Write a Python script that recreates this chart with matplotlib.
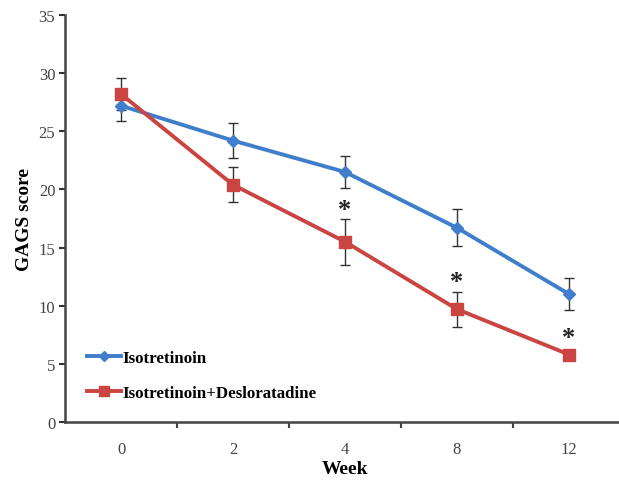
import matplotlib.pyplot as plt

weeks = ['0', '2', '4', '8', '12']
iso = [27.2, 24.2, 21.5, 16.7, 11.0]
iso_err = [1.3, 1.5, 1.4, 1.6, 1.4]
iso_des = [28.2, 20.4, 15.5, 9.7, 5.8]
iso_des_err = [1.4, 1.5, 2.0, 1.5, 0.3]
star_y = [18.3, 12.1, 7.3]
star_idx = [2, 3, 4]

blue = '#407ECB'
red = '#CA4541'

plt.rcParams['font.family'] = ['Liberation Serif', 'DejaVu Serif']

fig = plt.figure(figsize=(6.19, 4.81), dpi=100)
ax = fig.add_axes([65 / 619, 1 - 423 / 481, 560 / 619, 407 / 481])

x = list(range(len(weeks)))
ax.errorbar(x, iso, yerr=iso_err, fmt='none', ecolor='#333333', elinewidth=1, capsize=3.5, capthick=1, zorder=2)
ax.errorbar(x, iso_des, yerr=iso_des_err, fmt='none', ecolor='#333333', elinewidth=1, capsize=3.5, capthick=1, zorder=2)
ax.plot(x, iso, color=blue, lw=2.8, marker='D', ms=6.5, mfc=blue, mec=blue, label='Isotretinoin', zorder=3)
ax.plot(x, iso_des, color=red, lw=2.8, marker='s', ms=9, mfc=red, mec=red, label='Isotretinoin+Desloratadine', zorder=4)

for i, y in zip(star_idx, star_y):
    ax.text(i, y, '*', ha='center', va='center', fontsize=19, fontweight='bold', color='#222222')

ax.set_xlim(-0.5, 4.5)
ax.set_ylim(0, 35)
ax.set_yticks(range(0, 36, 5))
ax.set_xticks(x)
ax.set_xticklabels(weeks)
ax.set_xticks([0.5, 1.5, 2.5, 3.5], minor=True)
ax.tick_params(axis='x', which='major', length=0, pad=14, labelsize=12, colors='#333333')
ax.tick_params(axis='x', which='minor', length=4, width=1.5, direction='out', color='#444444')
ax.tick_params(axis='y', length=4, width=1.5, labelsize=12, colors='#333333', pad=3)
ax.tick_params(axis='both', labelcolor='#444444')

for s in ['top', 'right']:
    ax.spines[s].set_visible(False)
for s in ['left', 'bottom']:
    ax.spines[s].set_linewidth(1.8)
    ax.spines[s].set_color('#444444')

ax.set_xlabel('Week', fontsize=14, fontweight='bold', labelpad=2)
ax.set_ylabel('GAGS score', fontsize=14, fontweight='bold', labelpad=4)

ax.legend(loc='lower left', bbox_to_anchor=(0.012, 0.014), frameon=False, prop={'weight': 'bold', 'size': 12.2},
          handlelength=2.0, handletextpad=0.1, labelspacing=1.15, markerscale=0.85)

fig.savefig('out.png', dpi=100)
